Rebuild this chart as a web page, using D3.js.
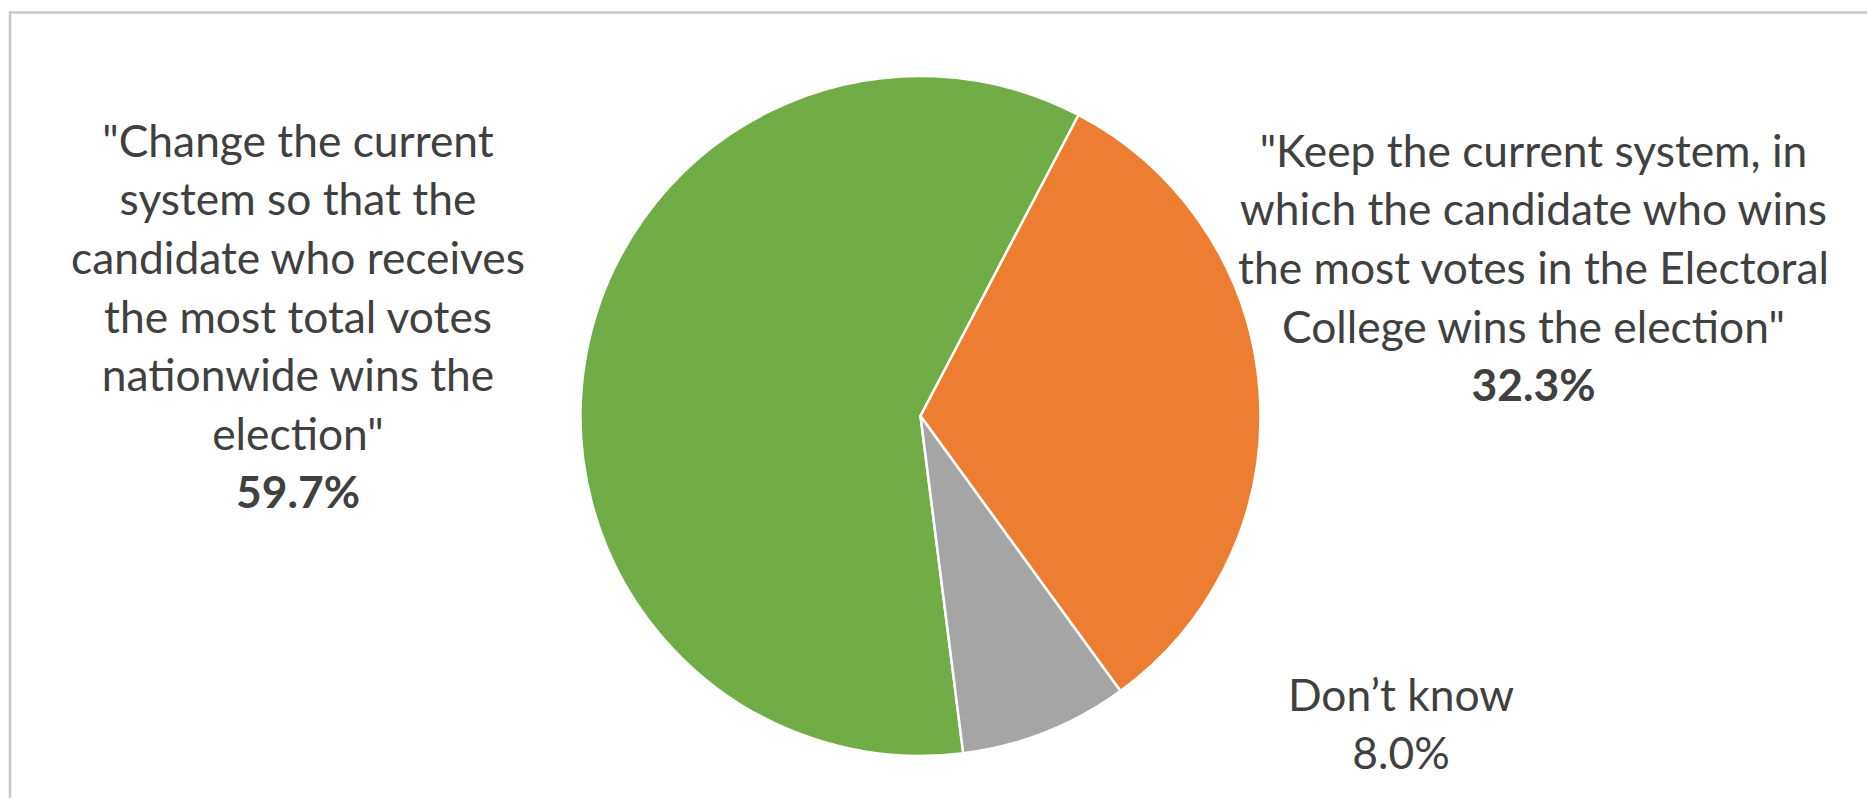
<!DOCTYPE html>
<html>
<head>
<meta charset="utf-8">
<script src="https://cdn.jsdelivr.net/npm/d3@7"></script>
<style>
  html, body { margin: 0; padding: 0; background: #fff; }
  svg { display: block; }
</style>
</head>
<body>
<svg id="chart" width="1867" height="798"></svg>
<script>
// ---- data ----
const categories = ["Change", "Keep", "Don't know"];
const values = [59.7, 32.3, 8.0];
const colors = ["#70AD47", "#ED7D31", "#A5A5A5"];
const labelLines = [
  ["\"Change the current", "system so that the", "candidate who receives", "the most total votes", "nationwide wins the", "election\""],
  ["\"Keep the current system, in", "which the candidate who wins", "the most votes in the Electoral", "College wins the election\""],
  ["Don\u2019t know"]
];
const valueLabels = ["59.7%", "32.3%", "8.0%"];
const boldValue = [true, true, false];

// ---- layout ----
const W = 1867, H = 798;
const cx = 920.5, cy = 416, R = 340;
const firstSliceDeg = 27.7 - 0.597 * 360; // orange slice boundary at ~27.7deg from top
const labelPos = [
  { x: 298, y: 156.7 },
  { x: 1533.5, y: 166.7 },
  { x: 1401, y: 710.7 }
];
const lineH = 58.6;
const textColor = "#404040";
const fontFamily = "Lato, 'Open Sans', 'Liberation Sans', sans-serif";

const svg = d3.select("#chart");

// chart area border
svg.append("rect")
  .attr("x", 10).attr("y", 12.5)
  .attr("width", W + 20).attr("height", H + 20)
  .attr("fill", "none")
  .attr("stroke", "#c8c8c8")
  .attr("stroke-width", 2.5);

const pie = d3.pie().sort(null).value(d => d)
  .startAngle(firstSliceDeg * Math.PI / 180)
  .endAngle(firstSliceDeg * Math.PI / 180 + 2 * Math.PI);
const arc = d3.arc().innerRadius(0).outerRadius(R);

const g = svg.append("g").attr("transform", `translate(${cx},${cy})`);
g.selectAll("path").data(pie(values)).join("path")
  .attr("d", arc)
  .attr("fill", (d, i) => colors[i])
  .attr("stroke", "#ffffff")
  .attr("stroke-width", 2.5)
  .attr("stroke-linejoin", "round");

// determine font size to fit reference width of widest left line (~454px)
const probe = svg.append("text").attr("font-family", fontFamily).attr("font-size", 100)
  .text("candidate who receives");
const w100 = probe.node().getComputedTextLength();
probe.remove();
const fs = 100 * 454 / w100;

labelLines.forEach((lines, i) => {
  const t = svg.append("text")
    .attr("font-family", fontFamily)
    .attr("font-size", fs)
    .attr("fill", textColor)
    .attr("text-anchor", "middle");
  lines.forEach((ln, j) => {
    t.append("tspan").attr("x", labelPos[i].x).attr("y", labelPos[i].y + j * lineH).text(ln);
  });
  t.append("tspan")
    .attr("x", labelPos[i].x)
    .attr("y", labelPos[i].y + lines.length * lineH)
    .attr("font-weight", boldValue[i] ? "bold" : "normal")
    .text(valueLabels[i]);
});
</script>
</body>
</html>
